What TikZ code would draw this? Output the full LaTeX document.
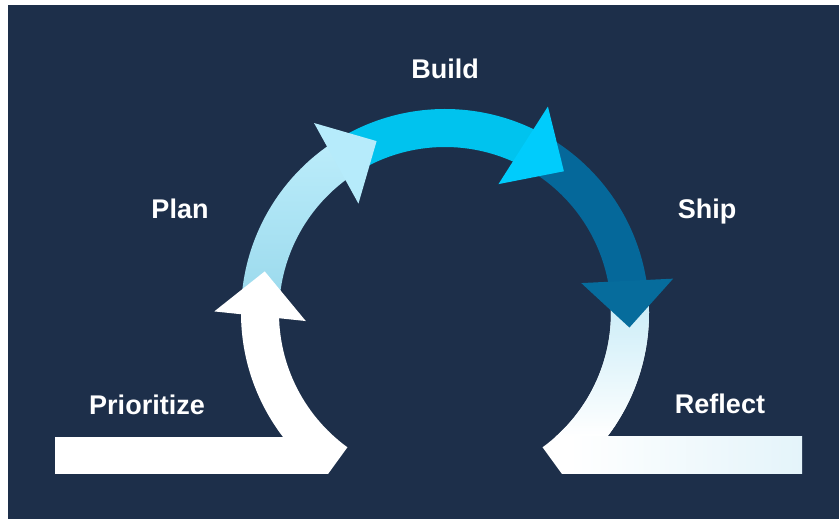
\documentclass[tikz,border=0pt]{standalone}
\usepackage{fontspec}
\setmainfont{Liberation Sans}
\usetikzlibrary{calc}
\definecolor{navy}{HTML}{1D2F4A}
\definecolor{plantop}{HTML}{BCEDFB}
\definecolor{planbot}{HTML}{9AD9EC}
\definecolor{planhead}{HTML}{B6EBFB}
\definecolor{buildc}{HTML}{00C3EE}
\definecolor{buildhead}{HTML}{00CCFC}
\definecolor{shipc}{HTML}{05689A}
\definecolor{shiphead}{HTML}{066C9C}
\definecolor{reftop}{HTML}{C6EBF7}
\definecolor{refbar}{HTML}{E4F4FA}
\newcommand\bandpath[2]{(#1:204) arc[start angle=#1,end angle=#2,radius=204] -- (#2:166) arc[start angle=#2,end angle=#1,radius=166] -- cycle}
\newcommand\myarrowhead[3]{%
  \pgfmathsetmacro\thm{(#2+#3)/2}%
  \pgfmathsetmacro\thn{(#2+#3)/2+180}%
  \fill[#1] ($(#2:185)+(\thm:46)$) -- (#3:185) -- ($(#2:185)+(\thn:46)$) -- cycle;}
\tikzset{lbl/.style={text=white,font=\bfseries\fontsize{27}{30}\selectfont,inner sep=0pt,anchor=base}}
\begin{document}
\begin{tikzpicture}[x=1pt,y=1pt]
\useasboundingbox (0,0) rectangle (839,519);
\fill[white] (0,0) rectangle (839,519);
\fill[navy] (8,0) rectangle (839,514);
% Reflect
\begin{scope}
  \clip (0,45) rectangle (839,519);
  \begin{scope}[shift={(445,206)}]
    \clip \bandpath{6}{-54};
    \fill[white] (50,-170) rectangle (260,40);
    \shade[top color=reftop,bottom color=white] (50,-124) rectangle (260,24);
  \end{scope}
\end{scope}
\shade[left color=white,right color=refbar] (569,45) rectangle (802,82);
\begin{scope}[shift={(445,206)}]
  % Ship
  \fill[shipc] \bandpath{61}{6};
  \myarrowhead{shiphead}{10}{-4.5}
  % Build
  \fill[buildc] \bandpath{121}{61};
  \myarrowhead{buildhead}{65}{50}
  % Plan
  \shade[top color=plantop,bottom color=planbot] \bandpath{177}{122};
  \myarrowhead{planhead}{126}{111.7}
\end{scope}
% Prioritize
\begin{scope}
  \clip (0,45) rectangle (839,519);
  \begin{scope}[shift={(445,206)}]
    \fill[white] \bandpath{177}{234};
  \end{scope}
\end{scope}
\fill[white] (55,45) rectangle (322,82);
\begin{scope}[shift={(445,206)}]
  \myarrowhead{white}{181}{167}
\end{scope}
% labels
\node[lbl] (build) at (445,440) {Build};
\node[lbl] (plan) at (180,300) {Plan};
\node[lbl] (ship) at (707,300) {Ship};
\node[lbl] (prioritize) at (147,104) {Prioritize};
\node[lbl] (reflect) at (720,105) {Reflect};
\end{tikzpicture}
\end{document}
